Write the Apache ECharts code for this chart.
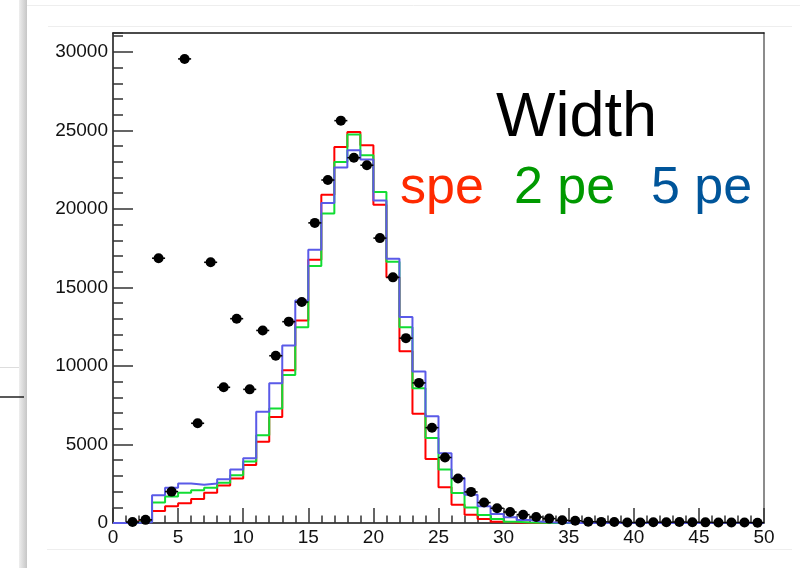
<!DOCTYPE html>
<html>
<head>
<meta charset="utf-8">
<title>Width</title>
<script src="https://cdn.jsdelivr.net/npm/echarts@6/dist/echarts.min.js"></script>
<style>
  html, body { margin: 0; padding: 0; background: #ffffff; }
  #chart { width: 800px; height: 568px; }
</style>
</head>
<body>
<div id="chart"></div>
<script>
// Pulse-width histograms, one bin per unit from 0 to 50
const speCounts = [
  0, 100, 100, 760, 1060, 1250, 1530, 1930, 2380, 2830,
  3700, 5180, 6750, 9730, 12900, 16760, 20900, 23940, 24900, 24050,
  20270, 15650, 10940, 6950, 4080, 2270, 1170, 530, 255, 85,
  30, 10, 0, 0, 0, 0, 0, 0, 0, 0,
  0, 0, 0, 0, 0, 0, 0, 0, 0, 0
];
const pe2Counts = [
  0, 50, 80, 1310, 1680, 1920, 2080, 2240, 2560, 3040,
  3920, 5590, 7290, 9430, 12470, 16360, 19700, 22990, 24730, 23410,
  21070, 16630, 12470, 8580, 5420, 3400, 1910, 990, 510, 255,
  85, 25, 10, 0, 0, 0, 0, 0, 0, 0,
  0, 0, 0, 0, 0, 0, 0, 0, 0, 0
];
const pe5Counts = [
  0, 20, 40, 1760, 2250, 2520, 2430, 2520, 2780, 3410,
  4130, 7090, 8900, 11300, 14170, 17400, 20370, 22630, 23730, 23140,
  20540, 16830, 13110, 9640, 6800, 4440, 2870, 1800, 1060, 570,
  360, 190, 85, 25, 10, 0, 0, 0, 0, 0,
  0, 0, 0, 0, 0, 0, 0, 0, 0, 0
];
// measured data (empty bins are not drawn)
const dataCounts = [
  null, 60, 200, 16860, 2000, 29550, 6350, 16600, 8640, 13010,
  8510, 12260, 10650, 12820, 14070, 19110, 21840, 25620, 23260, 22780,
  18140, 15640, 11770, 8920, 6070, 4170, 2830, 1980, 1300, 940,
  700, 530, 380, 280, 170, 140, 80, 70, 60, 30,
  30, 50, 50, 60, 50, 40, 30, 30, 30, 20
];

const xTicks = [0, 5, 10, 15, 20, 25, 30, 35, 40, 45, 50];
const yTicks = [0, 5000, 10000, 15000, 20000, 25000, 30000];
const xMin = 0, xMax = 50, yMax = 31200;

const FONT = '"Liberation Sans", Arial, Helvetica, sans-serif';

// outline of a histogram: flat top across each bin, vertical steps at edges
function histOutline(counts) {
  const pts = [];
  counts.forEach((v, i) => {
    pts.push([xMin + i, v]);
    pts.push([xMin + i + 1, v]);
  });
  return pts;
}

const pointData = [];
dataCounts.forEach((v, i) => {
  if (v !== null) pointData.push([xMin + i + 0.5, v]);
});

function histSeries(name, counts, color) {
  return {
    name: name,
    type: 'line',
    data: histOutline(counts),
    showSymbol: false,
    symbol: 'none',
    lineStyle: { color: color, width: 2 },
    silent: true,
    animation: false
  };
}

const chart = echarts.init(document.getElementById('chart'), null, { renderer: 'canvas' });

const option = {
  backgroundColor: '#ffffff',
  animation: false,
  grid: { left: 113, top: 33, right: 36, bottom: 45, containLabel: false },
  xAxis: [
    {
      type: 'value', min: xMin, max: xMax, interval: 5, position: 'bottom',
      axisLine: { show: true, onZero: false, lineStyle: { color: '#111', width: 1.5 } },
      axisTick: { show: true, inside: true, length: 15, lineStyle: { color: '#333', width: 1.5 } },
      minorTick: { show: true, splitNumber: 5, length: 7.5, lineStyle: { color: '#333', width: 1.5 } },
      axisLabel: {
        fontSize: 19, color: '#111', margin: 5, fontFamily: FONT,
        formatter: v => (xTicks.indexOf(v) >= 0 ? String(v) : '')
      },
      splitLine: { show: false }
    },
    {
      type: 'value', min: xMin, max: xMax, position: 'top',
      axisLine: { show: true, onZero: false, lineStyle: { color: '#111', width: 1.5 } },
      axisTick: { show: false }, axisLabel: { show: false }, splitLine: { show: false }
    }
  ],
  yAxis: [
    {
      type: 'value', min: 0, max: yMax, interval: 1000, position: 'left',
      axisLine: { show: true, onZero: false, lineStyle: { color: '#111', width: 1.5 } },
      axisTick: { show: true, inside: true, length: 10, lineStyle: { color: '#333', width: 1.5 } },
      axisLabel: { show: false },
      splitLine: { show: false }
    },
    {
      type: 'value', min: 0, max: yMax, interval: 5000, position: 'left',
      axisLine: { show: false },
      axisTick: { show: true, inside: true, length: 20, lineStyle: { color: '#333', width: 1.5 } },
      axisLabel: {
        fontSize: 19, color: '#111', margin: 5, fontFamily: FONT, showMaxLabel: false,
        formatter: v => (yTicks.indexOf(v) >= 0 ? String(v) : '')
      },
      splitLine: { show: false }
    },
    {
      type: 'value', min: 0, max: yMax, position: 'right',
      axisLine: { show: true, onZero: false, lineStyle: { color: '#666', width: 1.5 } },
      axisTick: { show: false }, axisLabel: { show: false }, splitLine: { show: false }
    }
  ],
  series: [
    histSeries('spe', speCounts, '#ff0000'),
    histSeries('2 pe', pe2Counts, '#11dd33'),
    histSeries('5 pe', pe5Counts, '#5a5ae8'),
    {
      name: 'data errors',
      type: 'custom',
      data: pointData,
      silent: true,
      animation: false,
      z: 4,
      renderItem: function (params, api) {
        const x = api.value(0), y = api.value(1);
        const err = Math.sqrt(y);
        const l = api.coord([x - 0.5, y]);
        const r = api.coord([x + 0.5, y]);
        const t = api.coord([x, y + err]);
        const b = api.coord([x, y - err]);
        const style = { stroke: '#000', lineWidth: 1.6 };
        return {
          type: 'group',
          children: [
            { type: 'line', shape: { x1: l[0], y1: l[1], x2: r[0], y2: r[1] }, style: style },
            { type: 'line', shape: { x1: t[0], y1: t[1], x2: b[0], y2: b[1] }, style: style }
          ]
        };
      }
    },
    {
      name: 'data',
      type: 'scatter',
      data: pointData,
      symbol: 'circle',
      symbolSize: 10,
      itemStyle: { color: '#000', opacity: 1 },
      silent: true,
      animation: false,
      z: 5
    }
  ],
  graphic: [
    // page edges around the canvas
    { type: 'rect', silent: true, z: -10, shape: { x: 19, y: 0, width: 8, height: 568 },
      style: { fill: new echarts.graphic.LinearGradient(0, 0, 1, 0, [
        { offset: 0, color: '#eeeeee' }, { offset: 1, color: '#c6c6c6' }]) } },
    { type: 'line', silent: true, z: -10, shape: { x1: 0, y1: 367.5, x2: 19, y2: 367.5 }, style: { stroke: '#dddddd', lineWidth: 1 } },
    { type: 'line', silent: true, z: -10, shape: { x1: 0, y1: 397, x2: 24, y2: 397 }, style: { stroke: '#222222', lineWidth: 1.5 } },
    { type: 'line', silent: true, z: -10, shape: { x1: 27, y1: 5.5, x2: 800, y2: 5.5 }, style: { stroke: '#eeeeee', lineWidth: 1 } },
    { type: 'line', silent: true, z: -10, shape: { x1: 48, y1: 26.5, x2: 792, y2: 26.5 }, style: { stroke: '#eeeeee', lineWidth: 1 } },
    { type: 'line', silent: true, z: -10, shape: { x1: 47, y1: 549.5, x2: 792, y2: 549.5 }, style: { stroke: '#eeeeee', lineWidth: 1 } },
    // titles
    { type: 'text', silent: true, z: 10, left: 496, top: 87,
      style: { text: 'Width', font: '63px ' + FONT, fill: '#000000' } },
    { type: 'text', silent: true, z: 10, left: 400, top: 163,
      style: { text: 'spe', font: '52px ' + FONT, fill: '#ff2a00' } },
    { type: 'text', silent: true, z: 10, left: 514, top: 163,
      style: { text: '2 pe', font: '52px ' + FONT, fill: '#009900' } },
    { type: 'text', silent: true, z: 10, left: 651, top: 163,
      style: { text: '5 pe', font: '52px ' + FONT, fill: '#00559a' } }
  ]
};

chart.setOption(option);
</script>
</body>
</html>
